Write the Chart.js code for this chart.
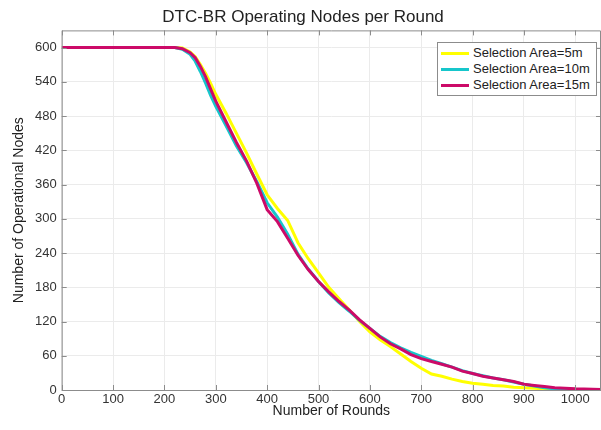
<!DOCTYPE html>
<html>
<head>
<meta charset="utf-8">
<script src="https://cdn.jsdelivr.net/npm/chart.js@4/dist/chart.umd.min.js"></script>
<style>
  body { margin: 0; background: #fff; }
  #wrap { position: relative; width: 601px; height: 430px; }
  #legend {
    position: absolute; left: 437px; top: 42px; width: 158px; height: 52px;
    border: 1px solid #8c8c8c; background: #fff;
    font: 13px "Liberation Sans", Arial, sans-serif; color: #222;
  }
  #legend .row { position: absolute; left: 0; height: 16px; line-height: 16px; white-space: nowrap; }
  #legend .swatch { position: absolute; left: 3px; top: 7px; width: 28px; height: 3px; }
  #legend .label { position: absolute; left: 35px; top: 0; }
</style>
</head>
<body>
<div id="wrap">
  <canvas id="nodesChart"></canvas>
  <div id="legend"></div>
</div>
<script>
// rounds sampled along the x axis, shared by all three curves
const rounds = [0, 220, 235, 250, 260, 270, 280, 290, 300, 320, 340, 360, 380, 400, 420, 440, 460, 480,
  500, 520, 540, 560, 580, 600, 620, 640, 660, 680, 700, 720, 740, 760, 780, 800, 820, 840, 860, 880,
  900, 920, 940, 960, 980, 1000, 1050];

const nodes5m = [600, 600, 599, 592, 584, 570, 555, 537, 518, 485, 450, 415, 378, 342, 318, 297, 258, 230,
  205, 180, 160, 140, 120, 102, 88, 76, 63, 50, 38, 28, 24, 19, 15, 12, 10, 8, 7, 5,
  4, 3, 2, 1, 0, 0, 0];
const nodes10m = [600, 600, 597, 588, 576, 558, 538, 516, 497, 463, 428, 398, 365, 328, 303, 273, 238, 212,
  190, 170, 153, 138, 122, 108, 94, 83, 74, 66, 59, 52, 46, 40, 34, 29, 25, 21, 18, 14,
  10, 7, 4, 2, 1, 0, 0];
const nodes15m = [600, 600, 598, 591, 582, 567, 549, 527, 506, 470, 434, 401, 362, 316, 295, 266, 236, 211,
  190, 172, 155, 140, 123, 108, 93, 81, 72, 62, 55, 50, 45, 40, 33, 29, 24, 21, 18, 15,
  10, 8, 6, 4, 3, 2, 1];

const seriesLabels = ['Selection Area=5m', 'Selection Area=10m', 'Selection Area=15m'];
const seriesColors = ['#ffff00', '#16c6cb', '#cc0a68'];
const xTicks = [0, 100, 200, 300, 400, 500, 600, 700, 800, 900, 1000];
const yTicks = [0, 60, 120, 180, 240, 300, 360, 420, 480, 540, 600];

const toPoints = (ys) => rounds.map((r, i) => ({ x: r, y: ys[i] }));
const allSeries = [nodes5m, nodes10m, nodes15m];

const font = '"Liberation Sans", Arial, sans-serif';
const axisColor = '#8c8c8c';

// box around the plot with short inward ticks, like the original figure
const framePlugin = {
  id: 'frame',
  afterDatasetsDraw(chart) {
    const { ctx, chartArea: a, scales: { x, y } } = chart;
    ctx.save();
    ctx.strokeStyle = axisColor;
    ctx.lineWidth = 1;
    ctx.beginPath();
    ctx.moveTo(a.left + 0.5, a.bottom + 0.5);
    ctx.lineTo(a.left + 0.5, a.top + 0.5);
    ctx.lineTo(a.right - 0.5, a.top + 0.5);
    ctx.lineTo(a.right - 0.5, a.bottom + 0.5);
    ctx.lineTo(a.left + 0.5, a.bottom + 0.5);
    xTicks.forEach(v => {
      const px = Math.round(x.getPixelForValue(v)) + 0.5;
      ctx.moveTo(px, a.bottom); ctx.lineTo(px, a.bottom - 5);
      ctx.moveTo(px, a.top); ctx.lineTo(px, a.top + 5);
    });
    yTicks.forEach(v => {
      const py = Math.round(y.getPixelForValue(v)) + 0.5;
      ctx.moveTo(a.left, py); ctx.lineTo(a.left + 5, py);
      ctx.moveTo(a.right, py); ctx.lineTo(a.right - 5, py);
    });
    ctx.stroke();
    ctx.restore();
  }
};

const ctx = document.getElementById('nodesChart').getContext('2d');

const nodesChart = new Chart(ctx, {
  type: 'line',
  data: {
    datasets: allSeries.map((ys, i) => ({
      label: seriesLabels[i],
      data: toPoints(ys),
      borderColor: seriesColors[i],
      backgroundColor: seriesColors[i],
      borderWidth: 3,
      pointRadius: 0,
      tension: 0,
      order: 3 - i
    }))
  },
  options: {
    responsive: true,
    maintainAspectRatio: false,
    animation: false,
    layout: { padding: { left: 5, right: 0, top: 0, bottom: 0 } },
    scales: {
      x: {
        type: 'linear',
        min: 0,
        max: 1050,
        afterBuildTicks: (axis) => {
          axis.ticks = xTicks.map(v => ({ value: v }));
        },
        grid: { color: '#ebebeb', drawTicks: false },
        border: { display: false },
        ticks: {
          padding: 3,
          color: '#333',
          maxRotation: 0,
          callback: (value) => String(value),
          font: { family: font, size: 13, lineHeight: 1 }
        },
        title: {
          display: true,
          text: 'Number of Rounds',
          color: '#222',
          font: { family: font, size: 14, lineHeight: 1 },
          padding: { top: -5, bottom: 12 }
        }
      },
      y: {
        min: 0,
        max: 630,
        afterBuildTicks: (axis) => {
          axis.ticks = yTicks.map(v => ({ value: v }));
        },
        grid: { color: '#ebebeb', drawTicks: false },
        border: { display: false },
        ticks: {
          padding: 5,
          color: '#333',
          callback: (value) => String(value),
          font: { family: font, size: 13, lineHeight: 1 }
        },
        title: {
          display: true,
          text: 'Number of Operational Nodes',
          color: '#222',
          font: { family: font, size: 14, lineHeight: 1 },
          padding: { top: 7, bottom: 4 }
        }
      }
    },
    plugins: {
      legend: { display: false },
      tooltip: { enabled: false },
      title: {
        display: true,
        text: 'DTC-BR Operating Nodes per Round',
        color: '#222',
        font: { family: font, size: 17, weight: 'normal', lineHeight: 1.2 },
        padding: { top: 7, bottom: 3 }
      }
    }
  },
  plugins: [framePlugin]
});

// legend box inside the plot, built from the same labels and colours
const legendBox = document.getElementById('legend');
seriesLabels.forEach((label, i) => {
  const row = document.createElement('div');
  row.className = 'row';
  row.style.top = (2 + i * 16) + 'px';
  row.innerHTML = '<span class="swatch" style="background:' + seriesColors[i] + '"></span>' +
    '<span class="label">' + label + '</span>';
  legendBox.appendChild(row);
});
</script>
</body>
</html>
